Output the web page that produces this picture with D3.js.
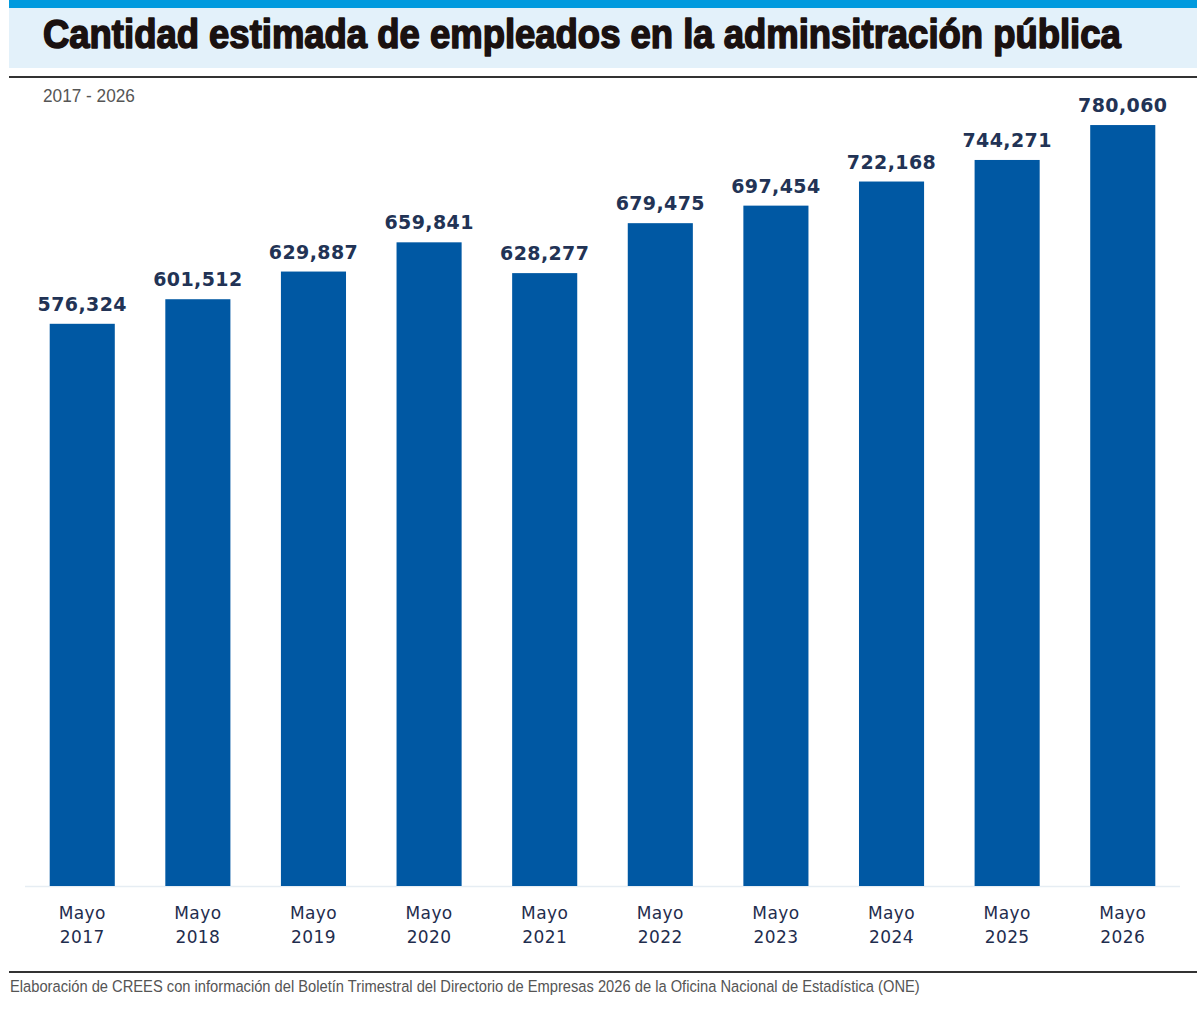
<!DOCTYPE html>
<html>
<head>
<meta charset="utf-8">
<script src="https://cdn.jsdelivr.net/npm/d3@7.9.0/dist/d3.min.js"></script>
<style>
  body { margin: 0; background: #fff; }
  svg { display: block; }
</style>
</head>
<body>
<svg id="chart"></svg>
<script>
const years = ['2017', '2018', '2019', '2020', '2021', '2022', '2023', '2024', '2025', '2026'];
const monthLabel = 'Mayo';
const employees = [576324, 601512, 629887, 659841, 628277, 679475, 697454, 722168, 744271, 780060];

const width = 1200, height = 1021;

const svg = d3.select('#chart')
  .attr('width', width)
  .attr('height', height);

// squeeze a text horizontally so it fills a given width
function fitWidth(sel, x0, y0, w) {
  const natural = sel.node().getComputedTextLength();
  sel.attr('transform', `translate(${x0},${y0}) scale(${w / natural},1)`);
}

// header band
svg.append('rect').attr('x', 9).attr('y', 0).attr('width', 1188).attr('height', 8).attr('fill', '#009ade');
svg.append('rect').attr('x', 9).attr('y', 8).attr('width', 1188).attr('height', 60).attr('fill', '#e3f1fa');
const title = svg.append('text')
  .attr('font-family', '"Liberation Sans", Arial, sans-serif')
  .attr('font-weight', 'bold')
  .attr('font-size', 40)
  .attr('fill', '#1a1110')
  .attr('stroke', '#1a1110')
  .attr('stroke-width', 1.6)
  .attr('stroke-linejoin', 'round')
  .text('Cantidad estimada de empleados en la adminsitración pública');
fitWidth(title, 43, 48, 1078);

svg.append('rect').attr('x', 9).attr('y', 76).attr('width', 1188).attr('height', 2).attr('fill', '#333');

const sub = svg.append('text')
  .attr('font-family', '"Liberation Sans", sans-serif')
  .attr('font-size', 18)
  .attr('fill', '#555')
  .text('2017 - 2026');
fitWidth(sub, 43, 102, 92);

// chart
const x = d3.scaleBand()
  .domain(years)
  .range([24.5, 1180.5])
  .paddingInner(0.437)
  .paddingOuter(0.218);

const y = d3.scaleLinear()
  .domain([0, 800000])
  .range([886, 886 - 780.4]);

const data = years.map((yr, i) => ({ year: yr, value: employees[i] }));

svg.append('line')
  .attr('x1', 25).attr('x2', 1180)
  .attr('y1', 886.5).attr('y2', 886.5)
  .attr('stroke', '#e6edf3').attr('stroke-width', 1.5);

svg.selectAll('rect.bar')
  .data(data)
  .join('rect')
  .attr('class', 'bar')
  .attr('x', d => x(d.year))
  .attr('y', d => y(d.value))
  .attr('width', x.bandwidth())
  .attr('height', d => y(0) - y(d.value))
  .attr('fill', '#0058a3');

svg.selectAll('text.val')
  .data(data)
  .join('text')
  .attr('class', 'val')
  .attr('x', d => x(d.year) + x.bandwidth() / 2)
  .attr('y', d => y(d.value) - 13)
  .attr('text-anchor', 'middle')
  .attr('font-family', '"DejaVu Sans", sans-serif')
  .attr('font-weight', 'bold')
  .attr('font-size', 19)
  .attr('letter-spacing', 0.4)
  .attr('fill', '#223355')
  .text(d => d3.format(',')(d.value));

const ticks = svg.selectAll('g.tick')
  .data(data)
  .join('g')
  .attr('class', 'tick')
  .attr('transform', d => `translate(${x(d.year) + x.bandwidth() / 2},0)`)
  .attr('font-family', '"DejaVu Sans", sans-serif')
  .attr('font-size', 17)
  .attr('fill', '#1f2d4e')
  .attr('text-anchor', 'middle');

ticks.append('text').attr('y', 919).attr('letter-spacing', 0.4).text(monthLabel);
ticks.append('text').attr('y', 943).attr('letter-spacing', 0.4).text(d => d.year);

// footer
svg.append('rect').attr('x', 9).attr('y', 971).attr('width', 1188).attr('height', 2).attr('fill', '#333');
const foot = svg.append('text')
  .attr('font-family', '"Liberation Sans", sans-serif')
  .attr('font-size', 17)
  .attr('fill', '#555')
  .text('Elaboración de CREES con información del Boletín Trimestral del Directorio de Empresas 2026 de la Oficina Nacional de Estadística (ONE)');
fitWidth(foot, 10, 992, 911);
</script>
</body>
</html>
